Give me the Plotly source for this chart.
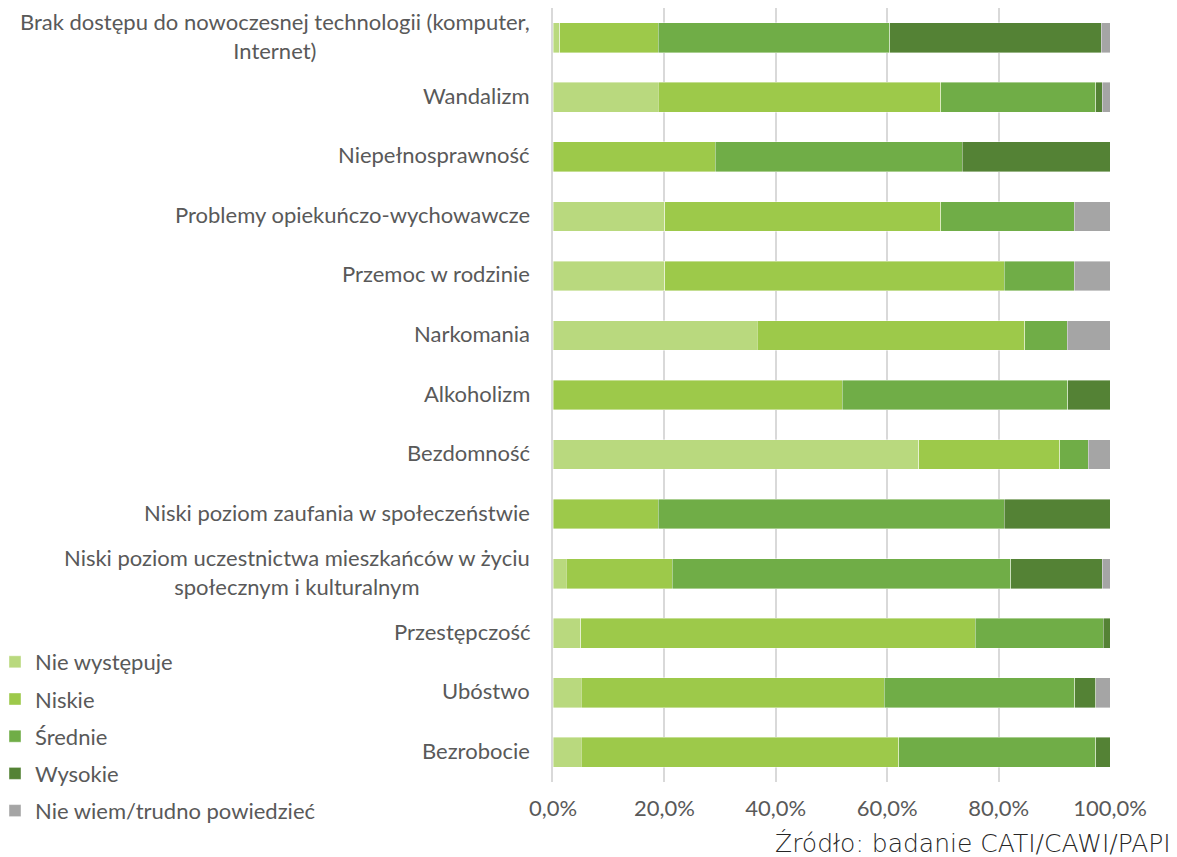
import plotly.graph_objects as go

categories = [
    "Brak dostępu do nowoczesnej technologii (komputer,<br>Internet)",
    "Wandalizm",
    "Niepełnosprawność",
    "Problemy opiekuńczo-wychowawcze",
    "Przemoc w rodzinie",
    "Narkomania",
    "Alkoholizm",
    "Bezdomność",
    "Niski poziom zaufania w społeczeństwie",
    "Niski poziom uczestnictwa mieszkańców w życiu<br>społecznym i kulturalnym",
    "Przestępczość",
    "Ubóstwo",
    "Bezrobocie",
]

series_names = ["Nie występuje", "Niskie", "Średnie", "Wysokie", "Nie wiem/trudno powiedzieć"]

nie_wystepuje = [1.2, 18.9, 0.0, 20.1, 20.1, 36.7, 0.0, 65.7, 0.0, 2.4, 5.0, 5.1, 5.1]
niskie        = [17.7, 50.7, 29.1, 49.5, 60.9, 48.0, 51.9, 25.3, 18.9, 19.0, 70.8, 54.4, 57.0]
srednie       = [41.6, 27.8, 44.4, 24.0, 12.6, 7.6, 40.5, 5.1, 62.1, 60.8, 23.0, 34.2, 35.3]
wysokie       = [37.9, 1.2, 26.5, 0.0, 0.0, 0.0, 7.6, 0.0, 19.0, 16.4, 1.2, 3.7, 2.6]
nie_wiem      = [1.6, 1.4, 0.0, 6.4, 6.4, 7.7, 0.0, 3.9, 0.0, 1.4, 0.0, 2.6, 0.0]

x_ticks = [0, 20, 40, 60, 80, 100]
x_tick_labels = ["0,0%", "20,0%", "40,0%", "60,0%", "80,0%", "100,0%"]
source_text = "Źródło: badanie CATI/CAWI/PAPI"

colors = ["#B9D97E", "#9DC94A", "#70AD47", "#548235", "#A5A5A5"]
values = [nie_wystepuje, niskie, srednie, wysokie, nie_wiem]

label_font = dict(family="Lato", size=22, color="#595959")

# figure is shifted by the page's 8px body margin, so size/margins compensate
W, H = 1169, 849
L, R, T, B = 545, 67, 0, 75
PW, PH = W - L - R, H - T - B

fig = go.Figure()
for name, vals, col in zip(series_names, values, colors):
    fig.add_trace(go.Bar(
        y=categories, x=vals, name=name, orientation="h",
        marker=dict(color=col, line=dict(color="rgba(255,255,255,0.5)", width=0.8)),
        legendgroup=name,
    ))

for cat in categories:
    fig.add_annotation(
        x=0, xref="paper", y=cat, yref="y", text=cat, showarrow=False,
        xanchor="right", yanchor="middle", xshift=-21, yshift=2, align="center",
        font=label_font,
    )

fig.add_annotation(
    x=(1165 - L) / PW, xref="paper", y=-(835 - (T + PH)) / PH, yref="paper",
    text=source_text, showarrow=False,
    xanchor="right", yanchor="middle",
    font=dict(family="DejaVu Sans", size=25, color="#262626", weight=300),
)

fig.update_layout(
    width=W, height=H,
    margin=dict(l=L, r=R, t=T, b=B, autoexpand=False),
    barmode="stack", bargap=0.5,
    plot_bgcolor="white", paper_bgcolor="white",
    showlegend=True,
    legend=dict(
        x=(-13 - L) / PW, xanchor="left", y=(PH - 633) / PH, yanchor="top",
        traceorder="grouped", tracegroupgap=5.6, itemwidth=30,
        font=label_font, bgcolor="rgba(0,0,0,0)",
    ),
    xaxis=dict(
        range=[0, 100], tickvals=x_ticks, ticktext=x_tick_labels,
        showgrid=True, gridcolor="#D9D9D9", gridwidth=2, zeroline=False,
        showline=False, ticks="", tickfont=label_font, ticklabelstandoff=11,
        fixedrange=True,
    ),
    yaxis=dict(
        autorange="reversed", showticklabels=False, showgrid=False,
        showline=True, linecolor="#D9D9D9", linewidth=2, ticks="", zeroline=False,
    ),
)

fig.write_html("out.html")
